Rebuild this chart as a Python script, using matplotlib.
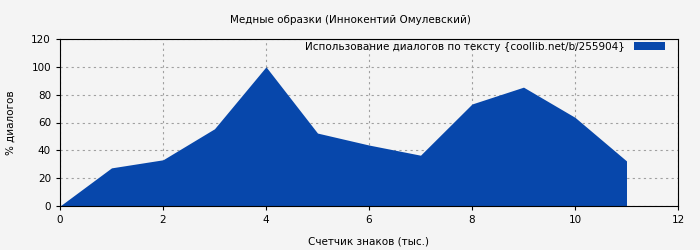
import matplotlib
matplotlib.use("Agg")
from matplotlib import pyplot as plt

x = [0, 1, 2, 3, 4, 5, 6, 7, 8, 9, 10, 11]
y = [0, 27.4, 33.2, 55.5, 100, 52.4, 43.8, 36.5, 73.3, 85.4, 63.7, 32.4]
label = "Использование диалогов по тексту {coollib.net/b/255904}"

fig = plt.figure(figsize=(7, 2.5), dpi=100, facecolor="#f4f4f4")
ax = fig.add_axes([60/700, 1-206/250, 618/700, 167/250])
ax.set_facecolor("#f4f4f4")
ax.fill_between(x, y, 0, color="#0747ab", linewidth=0, label=label)
ax.set_xlim(0, 12)
ax.set_ylim(0, 120)
ax.set_xticks(range(0, 13, 2))
ax.set_yticks(range(0, 121, 20))
ax.grid(True, color="#a0a0a0", linestyle=(0, (2, 3)), linewidth=0.8)
ax.set_axisbelow(True)
ax.tick_params(labelsize=7.5, length=3)
ax.set_xlabel("Счетчик знаков (тыс.)", fontsize=7.5, labelpad=8)
ax.set_ylabel("% диалогов", fontsize=7.5, labelpad=11)
fig.suptitle("Медные образки (Иннокентий Омулевский)", fontsize=7.5, y=0.94)
ax.legend(loc="upper right", bbox_to_anchor=(0.979, 0.985), frameon=False,
          fontsize=7.5, markerfirst=False, borderaxespad=0, borderpad=0,
          handlelength=3.0, handleheight=0.75, handletextpad=0.9)
fig.savefig("out.png", dpi=100, facecolor=fig.get_facecolor())
